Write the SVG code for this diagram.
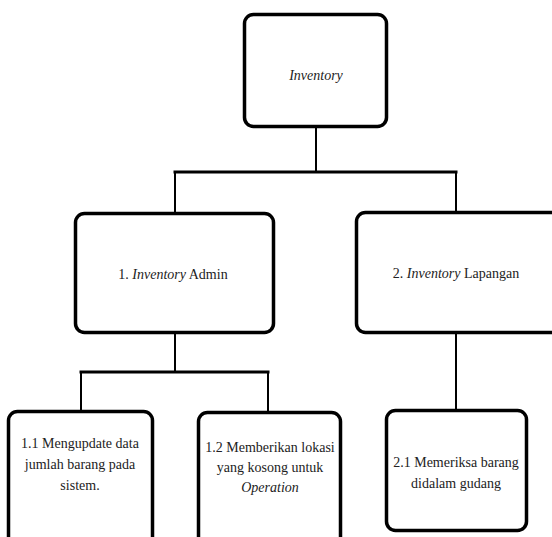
<svg xmlns="http://www.w3.org/2000/svg" width="552" height="537" viewBox="0 0 552 537">
<style>
.box{fill:#fff;stroke:#000;stroke-width:3.5}
.t{font-size:14px;fill:#222;text-anchor:middle}
.i{font-style:italic}
.c{fill:none;stroke:#000;stroke-linecap:square}
</style>
<rect width="552" height="537" fill="#fff"/>
<g id="connectors">
<path class="c" d="M316,128 V172" stroke-width="2"/>
<path class="c" d="M175,172 H456" stroke-width="3"/>
<path class="c" d="M175,172 V212 M456,172 V211" stroke-width="2"/>
<path class="c" d="M175,334 V372" stroke-width="2"/>
<path class="c" d="M81,372 H268" stroke-width="3"/>
<path class="c" d="M81,372 V410 M268,372 V411" stroke-width="2"/>
<path class="c" d="M456,334 V409" stroke-width="2"/>
</g>
<g font-family="Liberation Serif, Times New Roman, DejaVu Serif, serif">
<g id="inventory">
<rect class="box" x="244.5" y="14.5" width="142" height="112" rx="9"/>
<text class="t i" x="316" y="80">Inventory</text>
</g>
<g id="inventory-admin">
<rect class="box" x="75.5" y="213.5" width="198" height="119" rx="9"/>
<text class="t" x="173" y="279">1. <tspan class="i">Inventory</tspan> Admin</text>
</g>
<g id="inventory-lapangan">
<rect class="box" x="356.5" y="212.5" width="210" height="120" rx="9"/>
<text class="t" x="456" y="278">2. <tspan class="i">Inventory</tspan> Lapangan</text>
</g>
<g id="node-1-1">
<rect class="box" x="8.5" y="411.5" width="144" height="140" rx="9"/>
<text class="t" x="80" y="448">1.1 Mengupdate data</text>
<text class="t" x="80" y="469">jumlah barang pada</text>
<text class="t" x="80" y="490">sistem.</text>
</g>
<g id="node-1-2">
<rect class="box" x="198.5" y="412.5" width="142" height="140" rx="9"/>
<text class="t" x="270" y="452">1.2 Memberikan lokasi</text>
<text class="t" x="270" y="472">yang kosong untuk</text>
<text class="t i" x="270" y="492">Operation</text>
</g>
<g id="node-2-1">
<rect class="box" x="386.5" y="410.5" width="140" height="120" rx="9"/>
<text class="t" x="456" y="467">2.1 Memeriksa barang</text>
<text class="t" x="456" y="488">didalam gudang</text>
</g>
</g>
</svg>
